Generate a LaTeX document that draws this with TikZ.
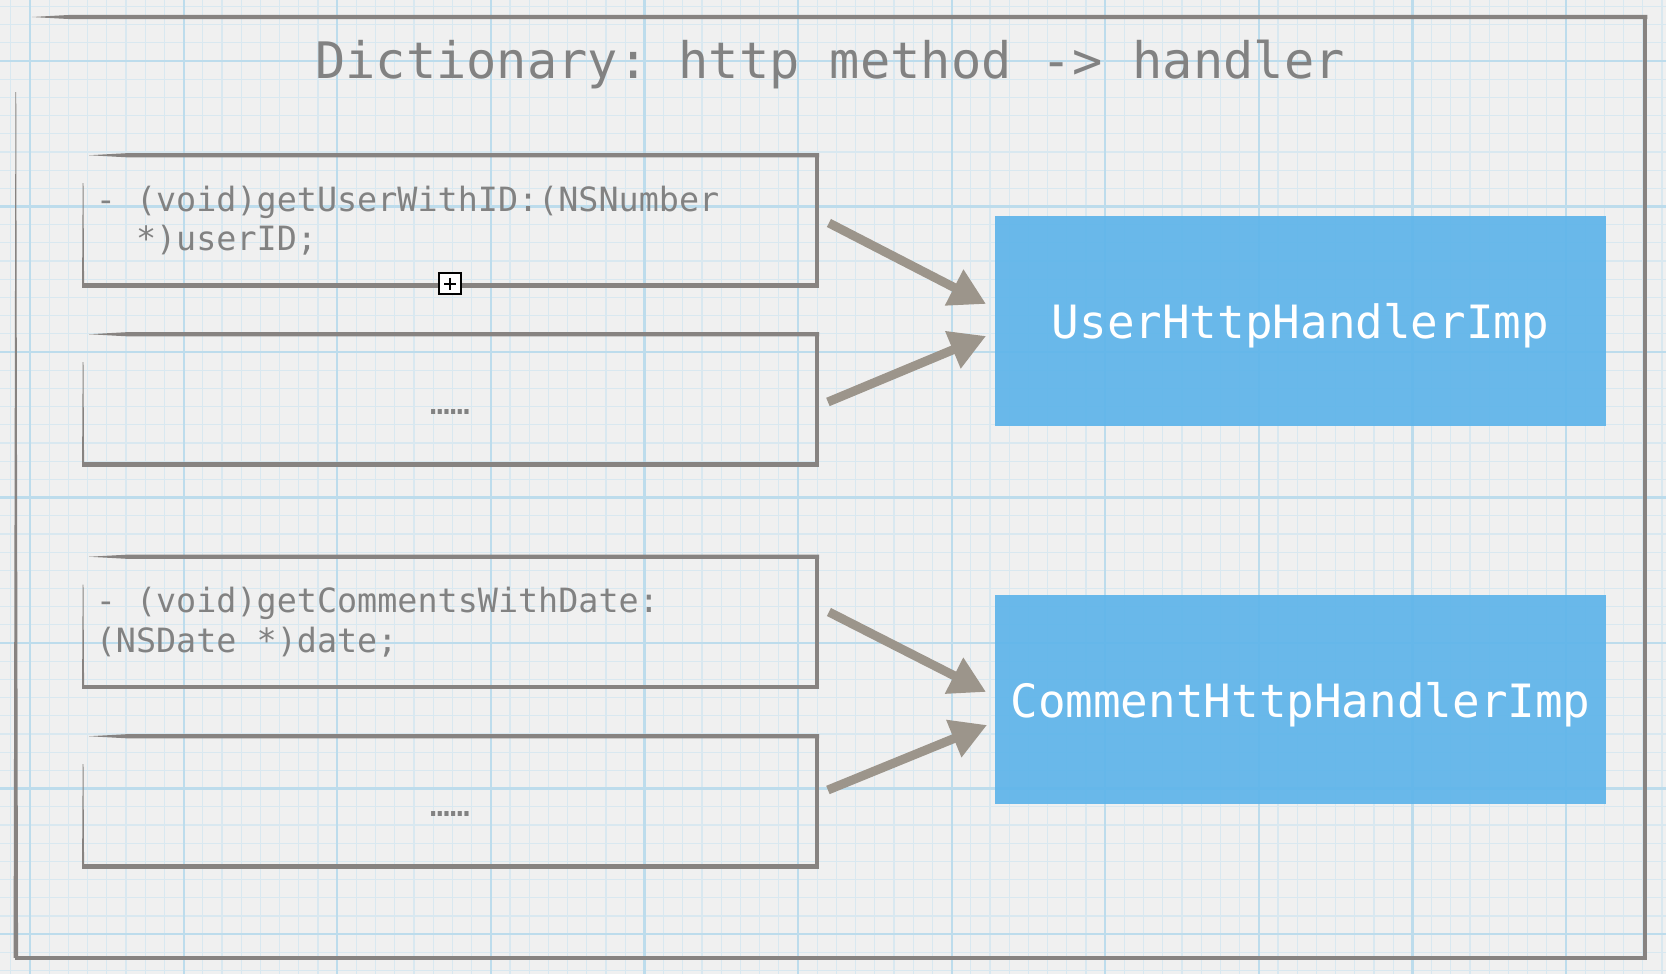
\documentclass[tikz,border=0pt]{standalone}
\usepackage{fontspec}
\setmonofont{DejaVu Sans Mono}
\usepackage{tikz}
\usetikzlibrary{arrows.meta,calc,positioning}

\definecolor{paper}{HTML}{F0F0F0}
\definecolor{gridminor}{HTML}{D9E8F0}
\definecolor{gridmajor}{HTML}{BDDCEC}
\definecolor{edgegray}{HTML}{878381}
\definecolor{arrowgray}{HTML}{9C958B}
\definecolor{textgray}{HTML}{828282}
\definecolor{handblue}{HTML}{5EB4EA}

% hand drawn looking frame round a node: name, taper of top edge, start of left edge, width of left edge at the bottom
\newcommand{\sketchedges}[4]{
    \fill[edgegray] ($(#1.north west)+(#2,0)$) -- ($(#1.north west)+(#2+40,-2.2)$) -- ($(#1.north east)+(2.2,-2.2)$)
        -- ($(#1.north east)+(2.2,2.2)$) -- ($(#1.north west)+(#2+40,2.2)$) -- cycle;
    \draw[edgegray, line width=0.045cm] (#1.north east) -- (#1.south east) -- ($(#1.south west)+(-1,0)$);
    \fill[edgegray] ($(#1.north west)+(-0.4,#3)$) -- ($(#1.north west)+(0.4,#3)$)
        -- ($(#1.south west)+(#4/2,0)$) -- ($(#1.south west)+(-#4/2,0)$) -- cycle;
}
% full width spaces inside a node with a text width
\newcommand{\monospaces}{\spaceskip=0pt\xspaceskip=0pt\relax}
\newcommand{\lowdots}{\vphantom{(}\smash{\raisebox{-0.05cm}{……}}}

\begin{document}
\begin{tikzpicture}[x=0.01cm,y=-0.01cm,
    methodbox/.style={minimum width=7.32cm, minimum height=1.29cm, text width=7.08cm, inner xsep=0.12cm,
        align=left, text=textgray, font=\ttfamily\fontsize{9.5}{11.2}\selectfont},
    handler/.style={fill=handblue, fill opacity=0.92, text opacity=1, text=white, minimum width=6.11cm,
        minimum height=2.09cm, text depth=0pt, font=\ttfamily\fontsize{13.05}{15}\selectfont},
    titletext/.style={text=textgray, font=\ttfamily\fontsize{14.3}{17}\selectfont},
    flow/.style={arrowgray, line width=0.09cm, -{Triangle[length=0.36cm,width=0.38cm]}},
    handlemark/.style={draw=black, fill=white, line width=0.02cm, minimum size=0.21cm, inner sep=0pt}]

    \useasboundingbox (0,0) rectangle (1666,974);
    \fill[paper] (0,0) rectangle (1666,974);

    % squared paper
    \foreach \k in {0,...,86}
        \draw[gridminor, line width=0.012cm] ({10.8+\k*19.2},0) -- ++(0,974);
    \foreach \k in {0,...,53}
        \draw[gridminor, line width=0.012cm] (0,{6.43+\k*18.19}) -- ++(1666,0);
    \foreach \k in {0,...,10}
        \draw[gridmajor, line width=0.022cm] ({30+\k*153.6},0) -- ++(0,974);
    \foreach \k in {0,...,6}
        \draw[gridmajor, line width=0.022cm] (0,{61+\k*145.5}) -- ++(1666,0);

    % dictionary frame
    \node[minimum width=16.27cm, minimum height=9.39cm] (dict) at (830.5,487.5) {};
    \sketchedges{dict}{16}{75}{4.5}
    \node[titletext] (title) at (830,65) {Dictionary: http method -> handler};

    % method entries
    \node[methodbox] (m1) at (450,220.5) {\monospaces- (void)getUserWithID:(NSNumber\\\phantom{- }*)userID;};
    \node[methodbox, align=center] (m2) at (450,399.5) {\lowdots};
    \node[methodbox] (m3) at (450,622) {\monospaces- (void)getCommentsWithDate:\\(NSDate *)date;};
    \node[methodbox, align=center] (m4) at (450,801.5) {\lowdots};
    \foreach \m in {m1,m2,m3,m4}
        \sketchedges{\m}{6}{28}{2};

    % handlers
    \node[handler] (user) at (1300.5,321) {UserHttpHandlerImp};
    \node[handler] (comment) at (1300.5,699.5) {CommentHttpHandlerImp};

    \draw[flow] ($(m1.east)+(12,2.5)$) -- ($(user.west)+(-8,-17)$);
    \draw[flow] ($(m2.east)+(11,2.5)$) -- ($(user.west)+(-8,15)$);
    \draw[flow] ($(m3.east)+(12,-10)$) -- ($(comment.west)+(-8,-7.5)$);
    \draw[flow] ($(m4.east)+(11,-11.5)$) -- ($(comment.west)+(-7,25.5)$);

    % selection handle
    \node[handlemark] (mark) at ($(m1.south)+(0,-2)$) {};
    \draw[line width=0.016cm] ($(mark.center)+(-6,0)$) -- ($(mark.center)+(6,0)$);
    \draw[line width=0.016cm] ($(mark.center)+(0,-6)$) -- ($(mark.center)+(0,6)$);
\end{tikzpicture}
\end{document}
